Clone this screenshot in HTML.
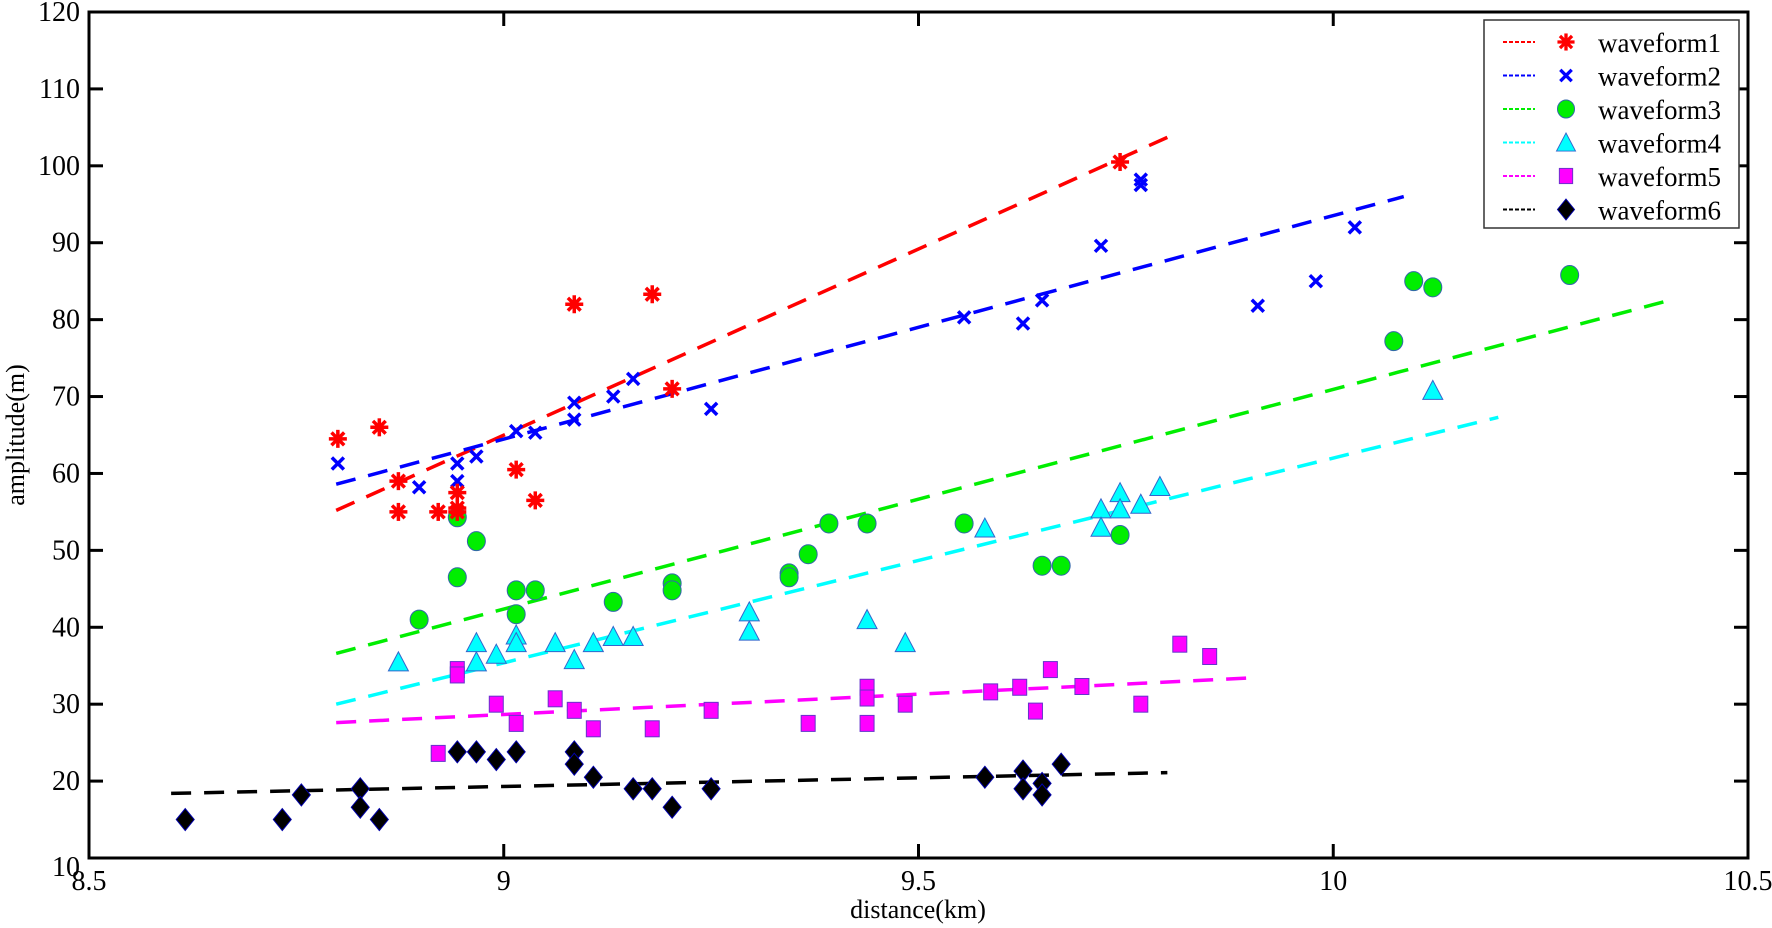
<!DOCTYPE html>
<html><head><meta charset="utf-8"><style>
body{margin:0;background:#fff;}
svg{display:block;font-family:"Liberation Serif",serif;}
</style></head><body>
<svg id="chart" width="1772" height="928" viewBox="0 0 1772 928">
<g id="grid"></g>
<g id="lines"></g>
<g id="marks"></g>
<rect x="89" y="12" width="1659" height="846" fill="none" stroke="#000" stroke-width="3"/>
<g id="axes"></g>
<text x="918" y="918" font-size="26" text-anchor="middle">distance(km)</text>
<text transform="translate(24,435) rotate(-90)" font-size="26" text-anchor="middle">amplitude(m)</text>
<g id="legend"></g>
</svg>
<script>
const xTicks=[8.5,9,9.5,10,10.5];
const xTickLabels=["8.5","9","9.5","10","10.5"];
const yTicks=[10,20,30,40,50,60,70,80,90,100,110,120];
const seriesNames=["waveform1","waveform2","waveform3","waveform4","waveform5","waveform6"];
const seriesColors=["#ff0000","#0000ff","#00ee00","#00ffff","#ff00ff","#000000"];
const w1x=[8.80,8.85,8.873,8.873,8.921,8.944,8.944,8.944,9.015,9.038,9.085,9.179,9.203,9.743];
const w1y=[64.5,66,59,55,55,57.5,55.5,55,60.5,56.5,82,83.3,71,100.5];
const w2x=[8.80,8.898,8.944,8.944,8.967,9.015,9.038,9.085,9.085,9.132,9.156,9.250,9.555,9.626,9.649,9.720,9.768,9.768,9.909,9.979,10.026];
const w2y=[61.3,58.2,61.3,59,62.2,65.5,65.3,69.2,67,70,72.3,68.4,80.3,79.5,82.5,89.6,98.2,97.5,81.8,85,92];
const w3x=[8.898,8.944,8.944,8.967,9.015,9.015,9.038,9.132,9.203,9.203,9.344,9.344,9.367,9.392,9.438,9.555,9.649,9.672,9.743,10.073,10.097,10.120,10.285];
const w3y=[41,54.3,46.5,51.2,44.8,41.7,44.8,43.3,45.7,44.8,47,46.5,49.5,53.5,53.5,53.5,48,48,52,77.2,85,84.2,85.8];
const w4x=[8.873,8.967,8.967,8.991,9.015,9.015,9.062,9.085,9.108,9.132,9.156,9.296,9.296,9.438,9.484,9.580,9.720,9.720,9.743,9.743,9.768,9.791,10.120];
const w4y=[35.5,38,35.5,36.5,39,38,38,35.8,38,38.8,38.8,42,39.5,41,38,52.9,55.4,53,57.5,55.4,56,58.3,70.8];
const w5x=[8.921,8.944,8.944,8.991,9.015,9.062,9.085,9.108,9.179,9.250,9.367,9.438,9.438,9.438,9.484,9.587,9.622,9.641,9.659,9.697,9.768,9.815,9.851];
const w5y=[23.6,34.5,33.8,30,27.5,30.7,29.2,26.8,26.8,29.2,27.5,32.2,30.8,27.5,30,31.6,32.2,29.1,34.5,32.3,30,37.8,36.2];
const w6x=[8.616,8.733,8.756,8.827,8.827,8.85,8.944,8.967,8.991,9.015,9.085,9.085,9.108,9.156,9.179,9.203,9.250,9.580,9.626,9.626,9.649,9.649,9.672];
const w6y=[15,15,18.2,19,16.6,15,23.8,23.8,22.8,23.8,23.8,22.2,20.5,19,19,16.6,19,20.5,21.3,19,19.7,18.2,22.2];
const fitX0=[8.798,8.798,8.798,8.798,8.798,8.599];
const fitY0=[55.2,58.6,36.6,30,27.6,18.4];
const fitX1=[9.80,10.085,10.398,10.199,9.898,9.80];
const fitY1=[103.7,96,82.3,67.3,33.4,21.1];

const NS="http://www.w3.org/2000/svg";
const X0=89,X1=1748,Y0=858,Y1=12;
const sx=v=>X0+(v-8.5)/2*(X1-X0);
const sy=v=>Y0-(v-10)/110*(Y0-Y1);
function mk(tag,attrs,parent){const e=document.createElementNS(NS,tag);for(const k in attrs)e.setAttribute(k,attrs[k]);parent.appendChild(e);return e;}
const axes=document.getElementById('axes');
xTicks.forEach((t,i)=>{
  const x=sx(t);
  const a=mk('line',{x1:x,y1:Y0,x2:x,y2:Y0-14,stroke:'#000','stroke-width':3},axes);
  
  
  const b=mk('line',{x1:x,y1:Y1,x2:x,y2:Y1+14,stroke:'#000','stroke-width':3},axes);
  
  
  const tx=mk('text',{x:x,y:890,'font-size':28,'text-anchor':'middle'},axes);
  tx.textContent=xTickLabels[i];
  
  
});
yTicks.forEach(t=>{
  const y=sy(t);
  const a=mk('line',{x1:X0,y1:y,x2:X0+14,y2:y,stroke:'#000','stroke-width':3},axes);
  
  
  const b=mk('line',{x1:X1,y1:y,x2:X1-14,y2:y,stroke:'#000','stroke-width':3},axes);
  
  
  const tx=mk('text',{x:80,y:y+(t===10?18:9),'font-size':28,'text-anchor':'end'},axes);
  tx.textContent=String(t);
  
  
});
const lines=document.getElementById('lines');
for(let i=0;i<6;i++){
  const l=mk('line',{x1:sx(fitX0[i]),y1:sy(fitY0[i]),x2:sx(fitX1[i]),y2:sy(fitY1[i]),stroke:seriesColors[i],'stroke-width':3.5,'stroke-dasharray':'20 13'},lines);
  
  
}
function marker(type,x,y,parent,s){
  s=s||1;
  const g=mk('g',{transform:`translate(${x},${y}) scale(${s})`},parent);
  if(type===0){
    for(let k=0;k<4;k++){const a=k*Math.PI/4;mk('line',{x1:-9*Math.cos(a),y1:-9*Math.sin(a),x2:9*Math.cos(a),y2:9*Math.sin(a),stroke:'#ff0000','stroke-width':3.5},g);}
  }else if(type===1){
    mk('path',{d:'M-6,-6L6,6M-6,6L6,-6',stroke:'#0000ff','stroke-width':3.5,fill:'none'},g);
  }else if(type===2){
    mk('ellipse',{cx:0,cy:0,rx:9,ry:9.5,fill:'#00ee00',stroke:'#3366aa','stroke-width':1},g);
  }else if(type===3){
    mk('path',{d:'M0,-10L10,9L-10,9Z',fill:'#00ffff',stroke:'#3366cc','stroke-width':1},g);
  }else if(type===4){
    mk('rect',{x:-7,y:-8,width:14,height:16,fill:'#ff00ff',stroke:'#6633cc','stroke-width':1},g);
  }else{
    mk('path',{d:'M0,-11L9,0L0,11L-9,0Z',fill:'#000',stroke:'#0000aa','stroke-width':1},g);
  }
  return g;
}
const marks=document.getElementById('marks');
const XS=[w1x,w2x,w3x,w4x,w5x,w6x],YS=[w1y,w2y,w3y,w4y,w5y,w6y];
for(let i=5;i>=0;i--){
  XS[i].forEach((v,j)=>{
    const m=marker(i,sx(v),sy(YS[i][j]),marks);
    
    
  });
}
const lg=document.getElementById('legend');
const box=mk('rect',{x:1484,y:20,width:255,height:208,fill:'#fff',stroke:'#333','stroke-width':1.5},lg);


seriesNames.forEach((n,i)=>{
  const y=42+i*33.5;
  const g=mk('g',{},lg);
  
  
  mk('line',{x1:1503,y1:y,x2:1535,y2:y,stroke:seriesColors[i],'stroke-width':2,'stroke-dasharray':'4 2'},g);
  marker(i,1566,y,g,0.95);
  const t=mk('text',{x:1598,y:y+10,'font-size':27},g);
  t.textContent=n;
});
</script>
</body></html>
